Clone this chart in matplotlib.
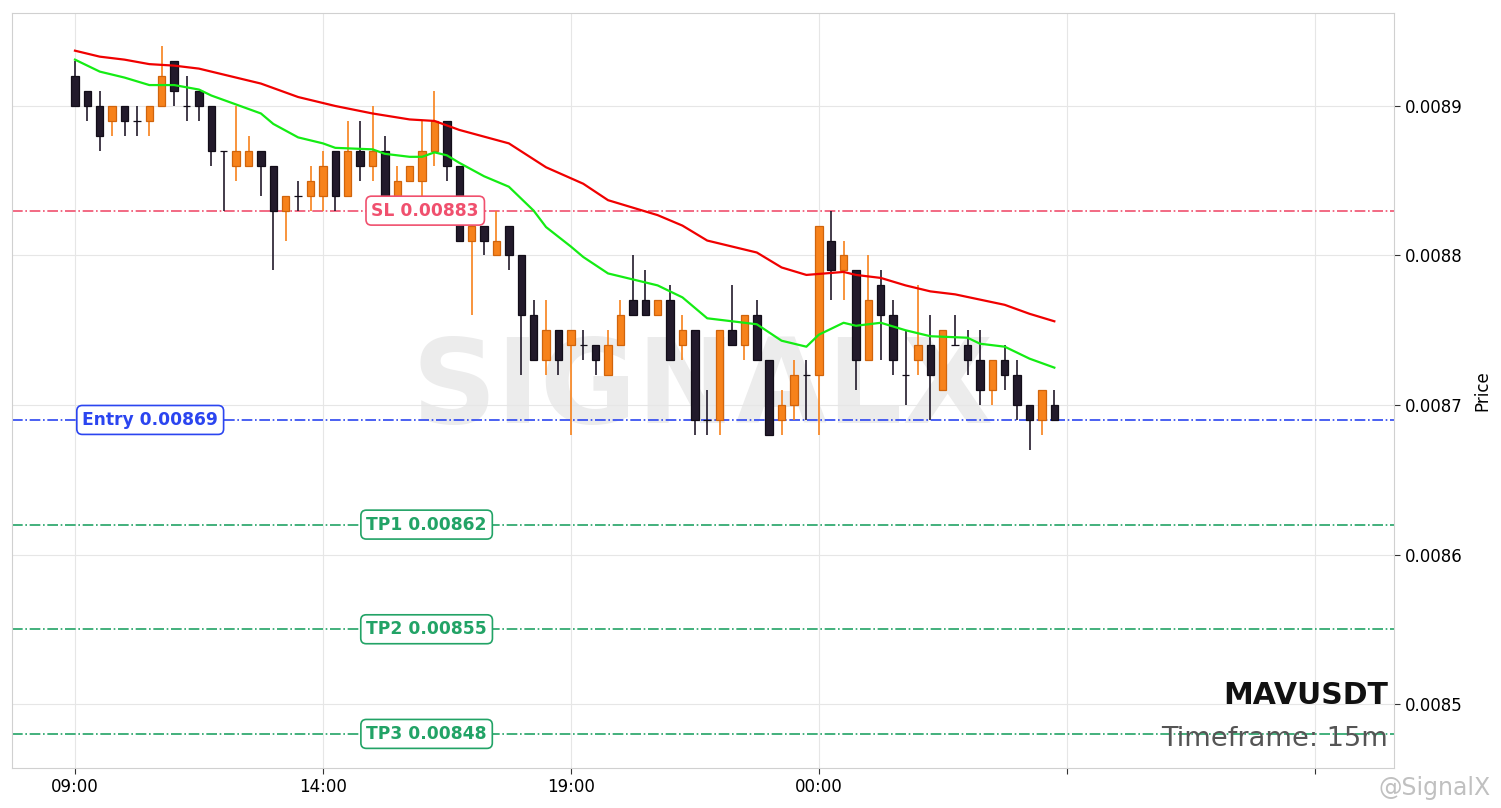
import numpy as np
import matplotlib
matplotlib.use("Agg")
import matplotlib.pyplot as plt
import matplotlib.transforms as mtransforms

# candle data (15m, from 09:00)
opens = [.00892, .00891, .00890, .00889, .00890, .00889, .00889, .00890, .00893, .00890,
         .00891, .00890, .00887, .00886, .00886, .00887, .00886, .00883, .00884, .00884,
         .00884, .00887, .00884, .00887, .00886, .00887, .00884, .00885, .00885, .00887,
         .00889, .00886, .00881, .00882, .00880, .00882, .00880, .00876, .00873, .00875,
         .00874, .00874, .00874, .00872, .00874, .00877, .00877, .00876, .00877, .00874,
         .00875, .00869, .00869, .00875, .00874, .00876, .00873, .00869, .00870, .00872,
         .00872, .00881, .00879, .00879, .00873, .00878, .00876, .00872, .00873, .00874,
         .00871, .00874, .00874, .00873, .00871, .00873, .00872, .00870, .00869, .00870]
highs = [.00893, .00891, .00891, .00890, .00890, .00890, .00890, .00894, .00893, .00892,
         .00891, .00890, .00887, .00890, .00888, .00887, .00886, .00884, .00885, .00886,
         .00887, .00887, .00889, .00889, .00890, .00888, .00886, .00886, .00889, .00891,
         .00889, .00886, .00883, .00882, .00883, .00882, .00880, .00877, .00877, .00875,
         .00875, .00875, .00874, .00875, .00877, .00880, .00879, .00877, .00878, .00876,
         .00875, .00871, .00875, .00878, .00876, .00877, .00873, .00871, .00873, .00873,
         .00882, .00883, .00881, .00879, .00880, .00879, .00877, .00875, .00878, .00876,
         .00875, .00876, .00875, .00875, .00873, .00874, .00873, .00870, .00871, .00871]
lows = [.00890, .00889, .00887, .00888, .00888, .00888, .00888, .00890, .00890, .00889,
        .00889, .00886, .00883, .00885, .00886, .00884, .00879, .00881, .00883, .00883,
        .00883, .00883, .00884, .00885, .00885, .00883, .00883, .00885, .00884, .00886,
        .00885, .00881, .00876, .00880, .00880, .00879, .00872, .00873, .00872, .00872,
        .00868, .00873, .00872, .00872, .00874, .00876, .00876, .00876, .00873, .00873,
        .00868, .00868, .00868, .00874, .00873, .00873, .00868, .00868, .00869, .00869,
        .00868, .00877, .00877, .00871, .00873, .00873, .00872, .00870, .00872, .00869,
        .00871, .00874, .00872, .00870, .00870, .00871, .00869, .00867, .00868, .00869]
closes = [.00890, .00890, .00888, .00890, .00889, .00889, .00890, .00892, .00891, .00890,
          .00890, .00887, .00887, .00887, .00887, .00886, .00883, .00884, .00884, .00885,
          .00886, .00884, .00887, .00886, .00887, .00884, .00885, .00886, .00887, .00889,
          .00886, .00881, .00882, .00881, .00881, .00880, .00876, .00873, .00875, .00873,
          .00875, .00874, .00873, .00874, .00876, .00876, .00876, .00877, .00873, .00875,
          .00869, .00869, .00875, .00874, .00876, .00873, .00868, .00870, .00872, .00872,
          .00882, .00879, .00880, .00873, .00877, .00876, .00873, .00872, .00874, .00872,
          .00875, .00874, .00873, .00871, .00873, .00872, .00870, .00869, .00871, .00869]

# moving averages (candle index, price)
ma_slow_idx = [0, 2, 4, 6, 8, 10, 13, 15, 18, 21, 24, 27, 29, 31, 35, 38, 41, 43, 47, 49,
               51, 53, 55, 57, 59, 62, 63, 65, 67, 69, 71, 75, 77, 79]
ma_slow = [.008937, .008933, .008931, .008928, .008927, .008925, .008919, .008915, .008906,
           .008900, .008895, .008891, .008890, .008884, .008875, .008859, .008848, .008837,
           .008827, .008820, .008810, .008806, .008802, .008792, .008787, .008789, .008787,
           .008785, .008780, .008776, .008774, .008767, .008761, .008756]
ma_fast_idx = [0, 2, 4, 6, 8, 10, 11, 13, 15, 16, 18, 20, 21, 24, 25, 27, 28, 29, 30, 31,
               33, 35, 37, 38, 40, 41, 43, 45, 47, 49, 51, 53, 55, 57, 59, 60, 62, 63, 65,
               67, 69, 72, 73, 75, 77, 79]
ma_fast = [.008931, .008923, .008919, .008914, .008914, .008911, .008907, .008901, .008895,
           .008888, .008879, .008875, .008872, .008871, .008868, .008866, .008866, .008869,
           .008867, .008862, .008853, .008846, .008830, .008819, .008806, .008799, .008788,
           .008784, .008780, .008772, .008758, .008756, .008754, .008743, .008739, .008747,
           .008755, .008753, .008755, .008750, .008746, .008745, .008741, .008739, .008731,
           .008725]

entry = 0.00869
sl = 0.00883
tps = [0.00862, 0.00855, 0.00848]
tick_idx = [0, 20, 40, 60, 80, 100]
tick_labels = ["09:00", "14:00", "19:00", "00:00", "", ""]

up_col, up_edge = "#f7821b", "#d0640c"
dn_col, dn_edge = "#221a2b", "#120d18"

fig = plt.figure(figsize=(15.01, 8.08), dpi=100)
ax = fig.add_axes([12 / 1501, 40 / 808, 1382 / 1501, 755 / 808])

ax.text(0.5, 0.5, "SIGNALX", transform=ax.transAxes, ha="center", va="center",
        fontsize=85, fontweight="bold", color="#ececec", zorder=0)

x = np.arange(len(opens))
o = np.array(opens); h = np.array(highs); l = np.array(lows); c = np.array(closes)
up = c > o
for i in x:
    col = up_col if up[i] else dn_col
    ax.vlines(i, l[i], h[i], color=col, lw=1.2, zorder=2)
ax.bar(x[up], c[up] - o[up], bottom=o[up], width=0.6, color=up_col,
       edgecolor=up_edge, lw=0.9, zorder=3)
ax.bar(x[~up], o[~up] - c[~up], bottom=c[~up], width=0.6, color=dn_col,
       edgecolor=dn_edge, lw=0.9, zorder=3)

ax.plot(ma_slow_idx, ma_slow, color="#f00000", lw=1.6, zorder=4)
ax.plot(ma_fast_idx, ma_fast, color="#14ec14", lw=1.6, zorder=4)

trans = mtransforms.blended_transform_factory(ax.transAxes, ax.transData)
levels = [("SL", sl, "#f0506e", 0.299), ("Entry", entry, "#2b45f0", 0.1)]
levels += [("TP%d" % (k + 1), v, "#22a366", 0.30) for k, v in enumerate(tps)]
for name, val, col, xpos in levels:
    ax.axhline(val, color=col, lw=1.2, ls="-.", zorder=1)
    ax.text(xpos, val, "%s %.5f" % (name, val), transform=trans, ha="center", va="center",
            fontsize=12.3, fontweight="bold", color=col, zorder=6,
            bbox=dict(boxstyle="round,pad=0.32", fc="white", ec=col, lw=1.2))

ax.text(0.9957, 0.085, "MAVUSDT", transform=ax.transAxes, ha="right", va="baseline",
        fontsize=21.5, fontweight="bold", color="#111111", zorder=6)
ax.text(0.9957, 0.029, "Timeframe: 15m", transform=ax.transAxes, ha="right",
        va="baseline", fontsize=19.6, color="#555555", zorder=6)

ax.set_xlim(-5.08, 106.4)
ax.set_ylim(0.0084572, 0.0089622)
ax.set_xticks(tick_idx)
ax.set_xticklabels(tick_labels)
ax.set_yticks([0.0085, 0.0086, 0.0087, 0.0088, 0.0089])
ax.set_yticklabels(["0.0085", "0.0086", "0.0087", "0.0088", "0.0089"])
ax.yaxis.tick_right()
ax.yaxis.set_label_position("right")
ax.set_ylabel("Price", fontsize=12, labelpad=8)
ax.tick_params(labelsize=12, length=4, color="#333333")
ax.grid(True, color="#e6e6e6", lw=0.8, zorder=0)
ax.set_axisbelow(True)
for sp in ax.spines.values():
    sp.set_color("#d0d0d0")

fig.text(0.993, 0.025, "@SignalX", ha="right", va="center", fontsize=17,
         color="#c0c0c0")

fig.savefig("out.png", dpi=100)
